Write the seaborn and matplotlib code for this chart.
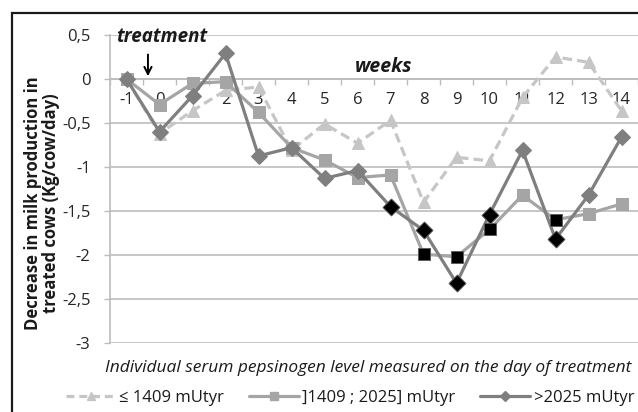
import matplotlib
matplotlib.use("Agg")
import matplotlib.pyplot as plt
import matplotlib.patches as mpatches
from matplotlib.lines import Line2D
import seaborn as sns
import pandas as pd
import numpy as np

weeks = [-1, 0, 1, 2, 3, 4, 5, 6, 7, 8, 9, 10, 11, 12, 13, 14]
low = [0, -0.62, -0.36, -0.13, -0.09, -0.81, -0.51, -0.73, -0.47, -1.40, -0.89, -0.93, -0.21, 0.25, 0.19, -0.36]
mid = [0, -0.29, -0.05, -0.03, -0.38, -0.78, -0.92, -1.12, -1.09, -1.99, -2.02, -1.71, -1.32, -1.60, -1.53, -1.42]
high = [0, -0.60, -0.19, 0.29, -0.875, -0.78, -1.13, -1.04, -1.45, -1.72, -2.32, -1.54, -0.81, -1.82, -1.32, -0.66]
mid_sig_weeks = [8, 9, 10, 12]
high_sig_weeks = [7, 8, 9, 10, 12]
series_names = ["≤ 1409 mUtyr", "]1409 ; 2025] mUtyr", ">2025 mUtyr"]
y_ticks = [0.5, 0, -0.5, -1, -1.5, -2, -2.5, -3]
y_labels = ["0,5", "0", "-0,5", "-1", "-1,5", "-2", "-2,5", "-3"]

sns.set_theme(style="white")
plt.rcParams['font.family'] = ['Open Sans', 'DejaVu Sans']

W, H = 638, 412
fig = plt.figure(figsize=(W / 100, H / 100), dpi=100)
ax = fig.add_axes([110 / W, 1 - 343 / H, (638 - 110) / W, (343 - 35) / H])

df = pd.DataFrame({"week": weeks * 3,
                   "value": low + mid + high,
                   "group": [series_names[0]] * 16 + [series_names[1]] * 16 + [series_names[2]] * 16})

colors = {series_names[0]: "#c6c6c6", series_names[1]: "#a5a5a5", series_names[2]: "#7f7f7f"}
markers = {series_names[0]: "^", series_names[1]: "s", series_names[2]: "D"}
msize = {series_names[0]: 8.5, series_names[1]: 8.5, series_names[2]: 8.5}

for g in series_names:
    sub = df[df.group == g]
    sns.lineplot(data=sub, x="week", y="value", ax=ax, color=colors[g], lw=2.3,
                 marker=markers[g], markersize=msize[g], markeredgecolor=colors[g],
                 legend=False, zorder=3)
    if g == series_names[0]:
        ax.lines[-1].set_dashes([3, 1.6])

sig_mid = pd.DataFrame({"week": mid_sig_weeks, "value": [mid[weeks.index(w)] for w in mid_sig_weeks]})
sig_high = pd.DataFrame({"week": high_sig_weeks, "value": [high[weeks.index(w)] for w in high_sig_weeks]})
sns.scatterplot(data=sig_mid, x="week", y="value", ax=ax, marker="s", s=75, color="black",
                edgecolor="#606060", linewidth=0.6, zorder=5, legend=False)
sns.scatterplot(data=sig_high, x="week", y="value", ax=ax, marker="D", s=75, color="black",
                edgecolor="#606060", linewidth=0.6, zorder=6, legend=False)

ax.set_xlim(-1.5, 14.5)
ax.set_ylim(-3, 0.5)
ax.set_yticks(y_ticks)
ax.set_yticklabels(y_labels)
ax.set_xticks(weeks)
ax.set_xticklabels([str(w) for w in weeks])
ax.set_xticks(np.arange(-1.5, 15, 1), minor=True)
ax.set_xlabel("")
ax.set_ylabel("")
ax.grid(axis="y", color="#bdbdbd", lw=1.2)
ax.set_axisbelow(True)
for s in ["top", "right"]:
    ax.spines[s].set_visible(False)
ax.spines["left"].set_color("#bdbdbd")
ax.spines["left"].set_linewidth(1.2)
ax.spines["bottom"].set_position(("data", 0))
ax.spines["bottom"].set_color("#bdbdbd")
ax.spines["bottom"].set_linewidth(1.2)
ax.tick_params(axis="y", which="major", length=4, color="#bdbdbd", width=1, pad=10,
               labelsize=12, labelcolor="#262626", left=True)
ax.tick_params(axis="x", which="major", length=0, pad=9, labelsize=12, labelcolor="#262626")
ax.tick_params(axis="x", which="minor", length=4, color="#bdbdbd", width=1, bottom=True, direction="out")
ax.patch.set_alpha(0)

fig.text(42 / W, 1 - 203 / H, "Decrease in milk production in\ntreated cows (Kg/cow/day)",
         rotation=90, ha="center", va="center", fontsize=12, fontweight="bold",
         color="#1a1a1a", linespacing=0.95)
fig.text(162 / W, 1 - 37 / H, "treatment", ha="center", va="center", fontsize=13.5,
         fontweight="bold", style="italic", color="#1a1a1a")
ax.annotate("", xy=(-0.35, 0.0), xytext=(-0.35, 0.31),
            arrowprops=dict(arrowstyle="->", color="black", lw=1.4, mutation_scale=13))
fig.text(384 / W, 1 - 67 / H, "weeks", ha="center", va="center", fontsize=14,
         fontweight="bold", style="italic", color="#1a1a1a")
fig.text(368 / W, 1 - 368 / H, "Individual serum pepsinogen level measured on the day of treatment",
         ha="center", va="center", fontsize=12.5, style="italic", color="#1a1a1a")

handles = []
for g in series_names:
    h = Line2D([], [], color=colors[g], lw=2.3, marker=markers[g],
               markersize=6 if g != series_names[2] else 5,
               markeredgecolor=colors[g], linestyle="-")
    if g == series_names[0]:
        h.set_dashes([2.5, 1.5])
    handles.append(h)
fig.legend(handles, series_names, loc="center", bbox_to_anchor=(350 / W, 1 - 398 / H),
           ncol=3, frameon=False, fontsize=12, handlelength=3.0, columnspacing=1.5,
           handletextpad=0.2, labelcolor="#1a1a1a")

fig.add_artist(mpatches.Rectangle((12 / W, -0.1), 1.2, 1 - 13 / H + 0.1, transform=fig.transFigure,
                                  fill=False, edgecolor="#1a1a1a", lw=1.6, zorder=10))

fig.savefig("out.png", dpi=100, facecolor="white")
